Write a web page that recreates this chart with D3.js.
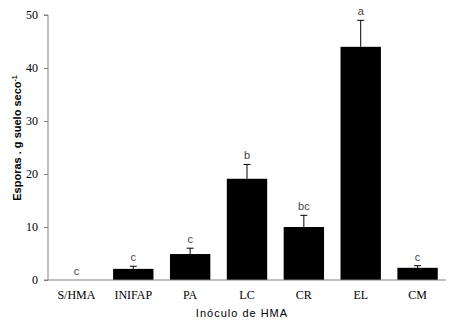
<!DOCTYPE html>
<html>
<head>
<meta charset="utf-8">
<script src="https://cdn.jsdelivr.net/npm/d3@7"></script>
<style>
  body { margin: 0; background: #fff; }
</style>
</head>
<body>
<div id="chart"></div>
<script>
// data
var categorias = ["S/HMA", "INIFAP", "PA", "LC", "CR", "EL", "CM"];
var esporas = [0, 2.1, 4.9, 19.1, 10.0, 44.0, 2.3];
var errores = [0, 0.5, 1.1, 2.7, 2.2, 5.0, 0.4];
var letras = ["c", "c", "c", "b", "bc", "a", "c"];
var yTicks = [0, 10, 20, 30, 40, 50];

var width = 454, height = 327;
var margin = { top: 15, right: 8, bottom: 47, left: 48 };
var w = width - margin.left - margin.right;
var h = height - margin.top - margin.bottom;

var svg = d3.select("#chart")
  .append("svg")
  .attr("width", width)
  .attr("height", height);

var g = svg.append("g")
  .attr("transform", "translate(" + margin.left + "," + margin.top + ")");

var x = d3.scaleBand()
  .domain(categorias)
  .range([0, w])
  .paddingInner(0.29)
  .paddingOuter(0.145);

var y = d3.scaleLinear()
  .domain([0, 50])
  .range([h, 0]);

// bars
g.selectAll(".bar")
  .data(categorias)
  .enter().append("rect")
  .attr("x", function (d) { return x(d); })
  .attr("y", function (d, i) { return y(esporas[i]); })
  .attr("width", x.bandwidth())
  .attr("height", function (d, i) { return h - y(esporas[i]); })
  .attr("fill", "#000");

// error bars (upper only)
var cap = 3.5;
categorias.forEach(function (d, i) {
  if (errores[i] <= 0) return;
  var cx = x(d) + x.bandwidth() / 2;
  g.append("line")
    .attr("x1", cx).attr("x2", cx)
    .attr("y1", y(esporas[i])).attr("y2", y(esporas[i] + errores[i]))
    .attr("stroke", "#000").attr("stroke-width", 1);
  g.append("line")
    .attr("x1", cx - cap).attr("x2", cx + cap)
    .attr("y1", y(esporas[i] + errores[i])).attr("y2", y(esporas[i] + errores[i]))
    .attr("stroke", "#000").attr("stroke-width", 1);
});

// letters
g.selectAll(".letra")
  .data(categorias)
  .enter().append("text")
  .attr("x", function (d) { return x(d) + x.bandwidth() / 2; })
  .attr("y", function (d, i) { return y(esporas[i] + errores[i]) - 5; })
  .attr("text-anchor", "middle")
  .style("font-family", "Liberation Sans, Arial, sans-serif")
  .style("font-size", "11px")
  .style("fill", "#444")
  .text(function (d, i) { return letras[i]; });

// y axis
var yAxis = g.append("g")
  .call(d3.axisLeft(y).tickValues(yTicks).tickSize(4).tickPadding(6));
yAxis.select(".domain").attr("stroke", "#808080").attr("d", "M-4," + h + "H0V0H-4");
yAxis.selectAll(".tick line").attr("stroke", "#808080");
yAxis.selectAll("text")
  .style("font-family", "Liberation Serif, Times New Roman, serif")
  .style("font-size", "12px")
  .style("fill", "#000");

// x axis
var xAxis = g.append("g")
  .attr("transform", "translate(0," + h + ")")
  .call(d3.axisBottom(x).tickSize(0).tickPadding(10));
xAxis.select(".domain").attr("stroke", "#808080").attr("d", "M0,0H" + w);
xAxis.selectAll("text")
  .style("font-family", "Liberation Serif, Times New Roman, serif")
  .style("font-size", "12px")
  .style("fill", "#000");

// axis titles
svg.append("text")
  .attr("x", 242)
  .attr("y", 317)
  .attr("text-anchor", "middle")
  .style("font-family", "Liberation Sans Narrow, Liberation Sans, Arial, sans-serif")
  .style("font-size", "11px")
  .style("letter-spacing", "1px")
  .text("Inóculo de HMA");

var yt = svg.append("text")
  .attr("transform", "translate(21,138) rotate(-90)")
  .attr("text-anchor", "middle")
  .style("font-family", "Liberation Sans, Arial, sans-serif")
  .style("font-size", "11px")
  .style("font-weight", "bold");
yt.append("tspan").text("Esporas . g suelo seco");
yt.append("tspan").attr("dy", -4).style("font-size", "7px").text("-1");
</script>
</body>
</html>
